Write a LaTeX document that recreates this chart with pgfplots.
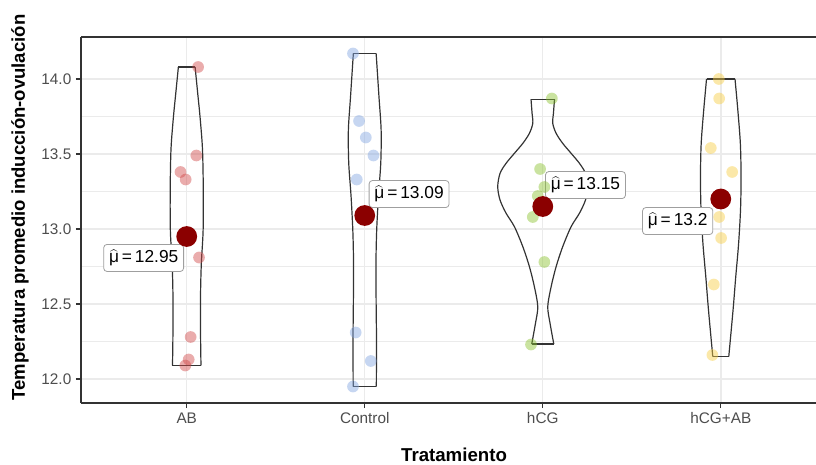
\documentclass[border=0pt]{standalone}
\usepackage{pgfplots}
\pgfplotsset{compat=1.18}
\usepackage{pgfplotstable}
\usepackage{fontspec}
\setmainfont{Liberation Sans}
\definecolor{gridc}{HTML}{EBEBEB}
\definecolor{axisc}{HTML}{333333}
\definecolor{tickc}{HTML}{4D4D4D}
\definecolor{cAB}{HTML}{D04848}
\definecolor{cCo}{HTML}{81A5E1}
\definecolor{chC}{HTML}{89C12D}
\definecolor{chA}{HTML}{F7CD41}
\definecolor{meanc}{HTML}{8B0000}

\pgfplotstableread{
y w
12.09 0.080
12.25 0.078
12.44 0.077
12.60 0.078
12.77 0.082
12.99 0.092
13.25 0.093
13.48 0.090
13.60 0.085
13.77 0.073
13.90 0.062
14.08 0.047
}\vAB
\pgfplotstableread{
y w
11.95 0.065
12.25 0.066
12.50 0.064
12.77 0.063
12.99 0.067
13.22 0.077
13.44 0.090
13.66 0.092
13.88 0.080
14.17 0.064
}\vCo
\pgfplotstableread{
y w
12.233 0.062
12.371 0.041
12.482 0.028
12.615 0.047
12.749 0.075
12.882 0.112
13.015 0.159
13.105 0.206
13.193 0.240
13.282 0.253
13.371 0.240
13.438 0.206
13.505 0.159
13.571 0.112
13.638 0.075
13.705 0.056
13.771 0.060
13.865 0.066
}\vhC
\pgfplotstableread{
y w
12.15 0.045
12.46 0.069
12.68 0.084
12.90 0.100
13.13 0.111
13.35 0.114
13.57 0.110
13.79 0.096
14.00 0.080
}\vhA

\pgfplotsset{
  vio/.style={draw=axisc, line width=0.9pt, no marks, smooth, tension=0.5},
  vioflat/.style={draw=axisc, line width=0.9pt, no marks},
  pt/.style={only marks, color=#1, mark=*, mark size=4.4pt, mark options={draw opacity=0, fill=#1, fill opacity=0.45}},
  mn/.style={only marks, color=meanc, mark=*, mark size=7.8pt, mark options={draw opacity=0, fill=meanc}},
  seg/.style={black, line width=0.6pt, no marks},
}
\tikzset{lab/.style={draw=gray!75, fill=white, rounded corners=2.5pt, line width=0.6pt,
  font=\fontsize{13}{15}\selectfont, inner xsep=4pt, inner ysep=4pt}}

\begin{document}
\begin{tikzpicture}
\begin{axis}[
  scale only axis, width=551.25pt, height=274.5pt,
  xmin=0.406, xmax=4.535, ymin=11.84, ymax=14.28,
  axis lines=left,
  axis line style={-, draw=axisc, line width=1.1pt},
  xtick={1,2,3,4}, xticklabels={AB,Control,hCG,hCG+AB},
  ytick={12,12.5,13,13.5,14},
  minor ytick={12.25,12.75,13.25,13.75},
  y tick label style={/pgf/number format/fixed, /pgf/number format/fixed zerofill, /pgf/number format/precision=1},
  /pgf/number format/assume math mode=true,
  xmajorgrids, ymajorgrids, yminorgrids,
  major grid style={draw=gridc, line width=1.1pt},
  minor grid style={draw=gridc, line width=0.6pt},
  tick align=outside, major tick length=3.75pt, minor tick length=0pt,
  tick style={draw=axisc, line width=0.8pt},
  ticklabel style={font=\fontsize{11.5}{13}\selectfont, text=tickc},
  clip=false,
]
% violins
\addplot[vio] table[x expr=1+\thisrow{w}, y=y] {\vAB};
\addplot[vio] table[x expr=1-\thisrow{w}, y=y] {\vAB};
\addplot[vioflat] coordinates {(0.953,14.08) (1.047,14.08)};
\addplot[vioflat] coordinates {(0.920,12.09) (1.080,12.09)};

\addplot[vio] table[x expr=2+\thisrow{w}, y=y] {\vCo};
\addplot[vio] table[x expr=2-\thisrow{w}, y=y] {\vCo};
\addplot[vioflat] coordinates {(1.936,14.17) (2.064,14.17)};
\addplot[vioflat] coordinates {(1.935,11.95) (2.065,11.95)};

\addplot[vio] table[x expr=3+\thisrow{w}, y=y] {\vhC};
\addplot[vio] table[x expr=3-\thisrow{w}, y=y] {\vhC};
\addplot[vioflat] coordinates {(2.934,13.865) (3.066,13.865)};
\addplot[vioflat] coordinates {(2.938,12.233) (3.062,12.233)};

\addplot[vio] table[x expr=4+\thisrow{w}, y=y] {\vhA};
\addplot[vio] table[x expr=4-\thisrow{w}, y=y] {\vhA};
\addplot[vioflat] coordinates {(3.920,14.00) (4.080,14.00)};
\addplot[vioflat] coordinates {(3.955,12.15) (4.045,12.15)};

% points
\addplot[pt=cAB] coordinates {(1.064,14.08) (1.054,13.49) (0.965,13.38) (0.994,13.33) (1.069,12.81) (1.022,12.28) (1.011,12.13) (0.992,12.09)};
\addplot[pt=cCo] coordinates {(1.934,14.17) (1.968,13.72) (2.006,13.61) (2.049,13.49) (1.955,13.33) (1.949,12.31) (2.034,12.12) (1.934,11.95)};
\addplot[pt=chC] coordinates {(3.051,13.87) (2.985,13.40) (3.009,13.28) (2.972,13.22) (2.944,13.08) (3.009,12.78) (2.934,12.23)};
\addplot[pt=chA] coordinates {(3.989,14.00) (3.991,13.87) (3.944,13.54) (4.064,13.38) (3.991,13.08) (4.002,12.94) (3.961,12.63) (3.953,12.16)};

% means
\addplot[mn] coordinates {(1,12.95) (2,13.09) (3,13.15) (4,13.2)};
\addplot[seg] coordinates {(1.011,12.967) (0.994,12.893)};
\addplot[seg] coordinates {(2.009,13.138) (2.0,13.093)};
\addplot[seg] coordinates {(3.006,13.198) (3.0,13.15)};
\addplot[seg] coordinates {(3.979,13.138) (4.004,13.193)};

\node[lab] at (axis cs:0.758,12.807) {$\widehat{\mbox{μ}}$\,=\,12.95};
\node[lab] at (axis cs:2.249,13.233) {$\widehat{\mbox{μ}}$\,=\,13.09};
\node[lab] at (axis cs:3.240,13.293) {$\widehat{\mbox{μ}}$\,=\,13.15};
\node[lab] at (axis cs:3.758,13.053) {$\widehat{\mbox{μ}}$\,=\,13.2};

\draw[axisc, line width=1.1pt] (rel axis cs:0,1) -- (rel axis cs:1,1);

\node[rotate=90, font=\fontsize{13.9}{16}\selectfont\bfseries] at ([xshift=-45.75pt]rel axis cs:0,0.534) {Temperatura promedio inducción-ovulación};
\node[font=\fontsize{14}{16}\selectfont\bfseries] at ([yshift=-39pt]rel axis cs:0.5075,0) {Tratamiento};
\end{axis}
\pgfresetboundingbox
\path[use as bounding box] ([shift={(-60.75pt,-45.75pt)}]current axis.south west) rectangle ([shift={(0pt,27.75pt)}]current axis.north east);
\end{tikzpicture}
\end{document}
